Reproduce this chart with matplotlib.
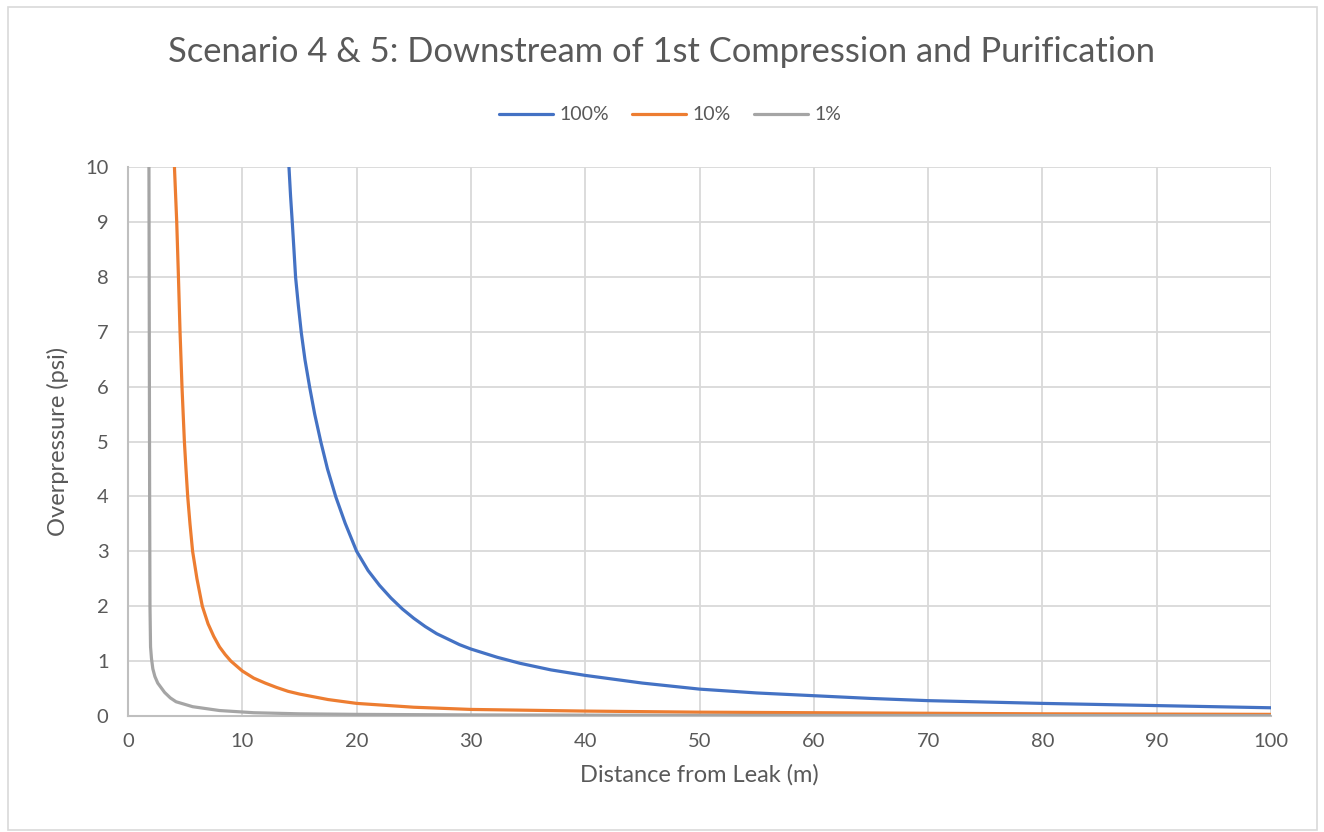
import matplotlib.pyplot as plt
from matplotlib.patches import Rectangle

# values (distance in m, overpressure in psi)
dist_100 = [14.08, 14.22, 14.37, 14.52, 14.66, 14.9, 15.16, 15.48, 15.89, 16.33,
            16.86, 17.45, 18.18, 19.0, 20.0, 21.0, 22.0, 23.0, 24.0, 25.0,
            26.0, 27.0, 28.0, 29.0, 30.0, 32.3, 34.3, 37.0, 40.0, 45.0,
            50.0, 55.0, 60.0, 65.0, 70.0, 80.0, 90.0, 100.0]
psi_100 = [10.0, 9.47, 8.99, 8.48, 7.99, 7.48, 6.98, 6.49, 5.99, 5.5,
           5.0, 4.5, 3.99, 3.51, 3.0, 2.65, 2.38, 2.15, 1.95, 1.78,
           1.63, 1.5, 1.4, 1.3, 1.22, 1.07, 0.96, 0.84, 0.74, 0.6,
           0.49, 0.42, 0.37, 0.32, 0.28, 0.23, 0.19, 0.15]

dist_10 = [4.06, 4.26, 4.41, 4.55, 4.72, 4.93, 5.07, 5.22, 5.42, 5.65, 6.03, 6.5,
           7.0, 7.5, 8.0, 8.5, 9.0, 10.0, 11.0, 12.0, 13.0, 14.0, 15.0, 17.5,
           20.0, 25.0, 30.0, 40.0, 50.0, 60.0, 70.0, 80.0, 90.0, 100.0]
psi_10 = [10.0, 9.0, 8.0, 7.0, 6.0, 5.0, 4.5, 4.0, 3.5, 3.0, 2.5, 2.0,
          1.68, 1.45, 1.26, 1.12, 1.0, 0.82, 0.69, 0.6, 0.52, 0.45, 0.4, 0.3,
          0.23, 0.16, 0.12, 0.09, 0.07, 0.06, 0.05, 0.04, 0.035, 0.03]

dist_1 = [1.83, 1.86, 1.89, 1.92, 1.97, 2.05, 2.17, 2.35, 2.6, 3.2, 3.7, 4.2,
          5.65, 8.0, 11.0, 15.0, 20.0, 30.0, 50.0, 100.0]
psi_1 = [10.0, 7.0, 4.0, 2.0, 1.26, 1.05, 0.86, 0.72, 0.6, 0.43, 0.33, 0.26,
         0.17, 0.1, 0.06, 0.04, 0.03, 0.02, 0.012, 0.005]

labels = ['100%', '10%', '1%']
colors = ['#4472C4', '#ED7D31', '#A5A5A5']

plt.rcParams['font.family'] = ['Lato', 'DejaVu Sans']
text_col = '#595959'

fig = plt.figure(figsize=(13.24, 8.32), dpi=100)
ax = fig.add_axes([0.0967, 0.1394, 0.8633, 0.6599])

series = [(dist_100, psi_100), (dist_10, psi_10), (dist_1, psi_1)]
for (xs, ys), lab, col in zip(series, labels, colors):
    ax.plot(xs, ys, color=col, lw=2.3, label=lab, solid_capstyle='round',
            solid_joinstyle='round', zorder=3)

ax.set_xlim(0, 100)
ax.set_ylim(0, 10)
ax.set_xticks(range(0, 101, 10))
ax.set_yticks(range(0, 11))
ax.grid(True, color='#D9D9D9', lw=1.3)
ax.set_axisbelow(True)
for side in ['top', 'right']:
    ax.spines[side].set_visible(False)
for side in ['left', 'bottom']:
    ax.spines[side].set_color('#BFBFBF')
    ax.spines[side].set_linewidth(1.5)
ax.tick_params(length=0, labelsize=14.5, labelcolor=text_col)
ax.tick_params(axis='y', pad=14)
ax.tick_params(axis='x', pad=12)

ax.set_xlabel('Distance from Leak (m)', fontsize=17, color=text_col, labelpad=10)
ax.set_ylabel('Overpressure (psi)', fontsize=17, color=text_col, labelpad=12)

fig.suptitle('Scenario 4 & 5: Downstream of 1st Compression and Purification',
             x=0.5, y=0.937, fontsize=24.8, color=text_col, va='center')

fig.legend(loc='center', bbox_to_anchor=(0.506, 0.862), ncol=3, frameon=False,
           fontsize=14, labelcolor=text_col, handlelength=2.8, handletextpad=0.3,
           columnspacing=1.2)

fig.patches.append(Rectangle((0.006, 0.003), 0.989, 0.988, transform=fig.transFigure,
                             fill=False, edgecolor='#D9D9D9', lw=1.2))

fig.savefig('out.png', dpi=100, facecolor='white')
